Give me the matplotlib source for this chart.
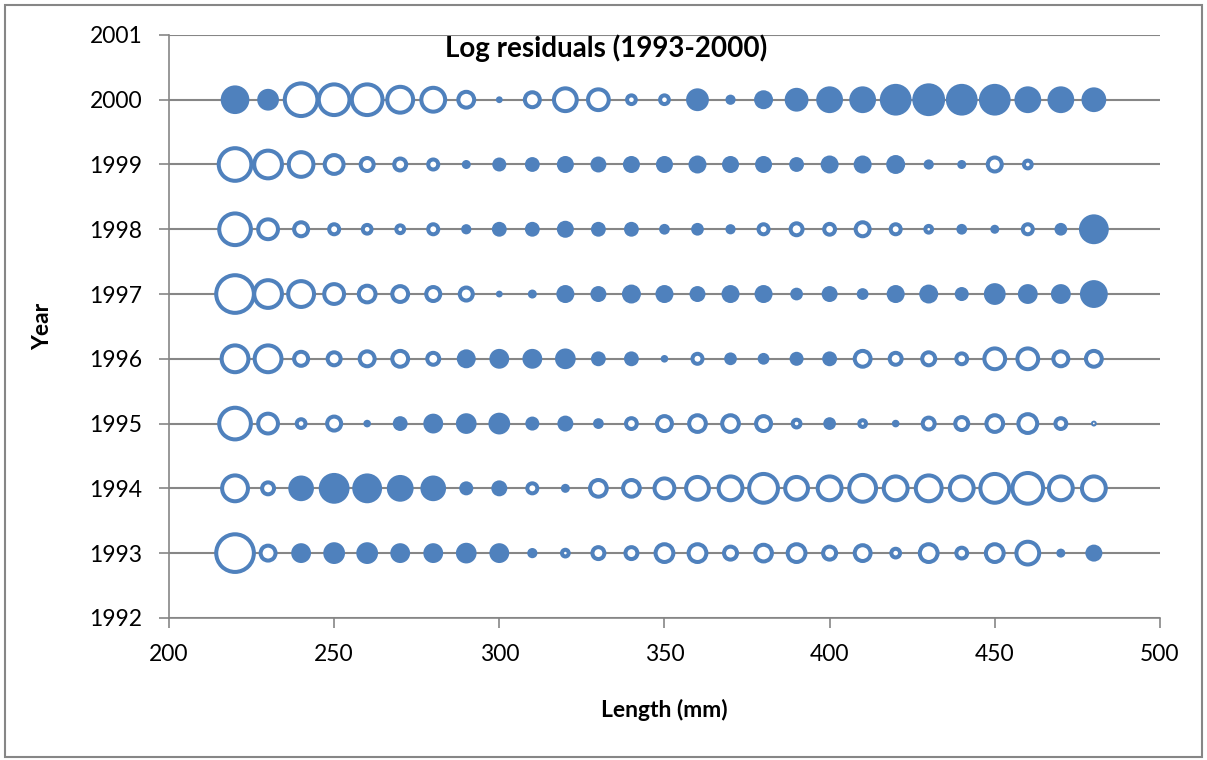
import numpy as np
import matplotlib
matplotlib.use("Agg")
import matplotlib.pyplot as plt
from matplotlib.patches import Rectangle

plt.rcParams['font.family'] = ['Lato', 'DejaVu Sans']

# length classes (mm)
lengths = [220, 230, 240, 250, 260, 270, 280, 290, 300, 310, 320, 330, 340, 350,
           360, 370, 380, 390, 400, 410, 420, 430, 440, 450, 460, 470, 480]

years = [1993, 1994, 1995, 1996, 1997, 1998, 1999, 2000]

# log residuals per year (positive = filled, negative = hollow)
res_1993 = [-1.50, -0.31, 0.34, 0.41, 0.41, 0.34, 0.34, 0.37, 0.34, 0.09, -0.10, -0.22, -0.22, -0.41,
            -0.41, -0.25, -0.37, -0.41, -0.25, -0.34, -0.14, -0.41, -0.19, -0.41, -0.62, 0.07, 0.25]
res_1994 = [-0.77, -0.22, 0.57, 0.82, 0.77, 0.62, 0.57, 0.17, 0.22, -0.17, 0.07, -0.37, -0.37, -0.49,
            -0.62, -0.67, -0.93, -0.62, -0.67, -0.82, -0.67, -0.77, -0.67, -0.93, -1.04, -0.67, -0.67]
res_1995 = [-1.10, -0.49, -0.14, -0.28, 0.05, 0.19, 0.34, 0.37, 0.41, 0.17, 0.22, 0.10, -0.19, -0.31,
            -0.37, -0.37, -0.31, -0.12, 0.14, -0.10, -0.05, -0.22, -0.25, -0.37, -0.45, -0.19, -0.03]
res_1996 = [-0.82, -0.82, -0.28, -0.25, -0.31, -0.34, -0.22, 0.31, 0.34, 0.34, 0.37, 0.19, 0.19, 0.05,
            -0.17, 0.14, 0.12, 0.17, 0.19, -0.34, -0.22, -0.25, -0.19, -0.53, -0.53, -0.31, -0.34]
res_1997 = [-1.50, -0.87, -0.77, -0.49, -0.37, -0.34, -0.28, -0.25, 0.04, 0.07, 0.28, 0.22, 0.31, 0.28,
            0.22, 0.28, 0.28, 0.14, 0.22, 0.12, 0.28, 0.31, 0.17, 0.41, 0.34, 0.34, 0.67]
res_1998 = [-1.10, -0.49, -0.28, -0.17, -0.14, -0.12, -0.17, 0.09, 0.19, 0.19, 0.25, 0.19, 0.19, 0.10,
            0.14, 0.09, -0.17, -0.22, -0.19, -0.28, -0.17, -0.10, 0.10, 0.07, -0.17, 0.14, 0.77]
res_1999 = [-1.16, -0.87, -0.71, -0.45, -0.25, -0.22, -0.17, 0.07, 0.17, 0.19, 0.25, 0.22, 0.25, 0.25,
            0.28, 0.25, 0.25, 0.19, 0.28, 0.28, 0.31, 0.09, 0.07, -0.28, -0.12, np.nan, np.nan]
res_2000 = [0.71, 0.41, -1.16, -1.04, -1.04, -0.77, -0.67, -0.34, 0.04, -0.31, -0.62, -0.53, -0.14, -0.14,
            0.45, 0.09, 0.31, 0.49, 0.62, 0.62, 0.87, 0.93, 0.87, 0.87, 0.62, 0.62, 0.53]

residuals = [res_1993, res_1994, res_1995, res_1996, res_1997, res_1998, res_1999, res_2000]

blue = '#4F81BD'
grey = '#868686'
ring_lw = 2.9
max_diam = 30.0  # points, for largest |residual|
max_res = 1.5

fig = plt.figure(figsize=(12.07, 7.6), dpi=100)
ax = fig.add_axes([0.140, 0.187, 0.821, 0.767])

for yr, res in zip(years, residuals):
    r = np.array(res, dtype=float)
    x = np.array(lengths, dtype=float)
    ok = ~np.isnan(r)
    x, r = x[ok], r[ok]
    diam = max_diam * np.sqrt(np.abs(r) / max_res)
    pos = r > 0
    neg = ~pos
    ax.scatter(x[pos], np.full(pos.sum(), yr), s=diam[pos] ** 2, color=blue,
               edgecolors='none', zorder=3)
    ax.scatter(x[neg], np.full(neg.sum(), yr), s=np.clip(diam[neg] - ring_lw, 1, None) ** 2,
               facecolors='white', edgecolors=blue, linewidths=ring_lw, zorder=3)

ax.set_xlim(200, 500)
ax.set_ylim(1992, 2001)
ax.set_xticks(range(200, 501, 50))
ax.set_yticks(range(1992, 2002))
ax.yaxis.grid(True, color=grey, linewidth=1.5)
ax.set_axisbelow(True)

for side in ['top', 'right']:
    ax.spines[side].set_visible(False)
for side in ['left', 'bottom']:
    ax.spines[side].set_color(grey)
    ax.spines[side].set_linewidth(1.2)
ax.tick_params(axis='both', colors=grey, length=7, width=1.2, labelsize=16.5, labelcolor='black')
ax.tick_params(axis='x', pad=12)
ax.tick_params(axis='y', pad=12)

ax.set_xlabel('Length (mm)', fontsize=16.5, fontweight='bold', labelpad=24)
ax.set_ylabel('Year', fontsize=16.5, fontweight='bold', labelpad=26)
fig.text(0.502, 0.937, 'Log residuals (1993-2000)', ha='center', va='center',
         fontsize=20, fontweight='bold')

fig.patches.append(Rectangle((0.004, 0.004), 0.992, 0.990, transform=fig.transFigure,
                             fill=False, edgecolor=grey, linewidth=1.5))

fig.savefig('out.png', dpi=100)
